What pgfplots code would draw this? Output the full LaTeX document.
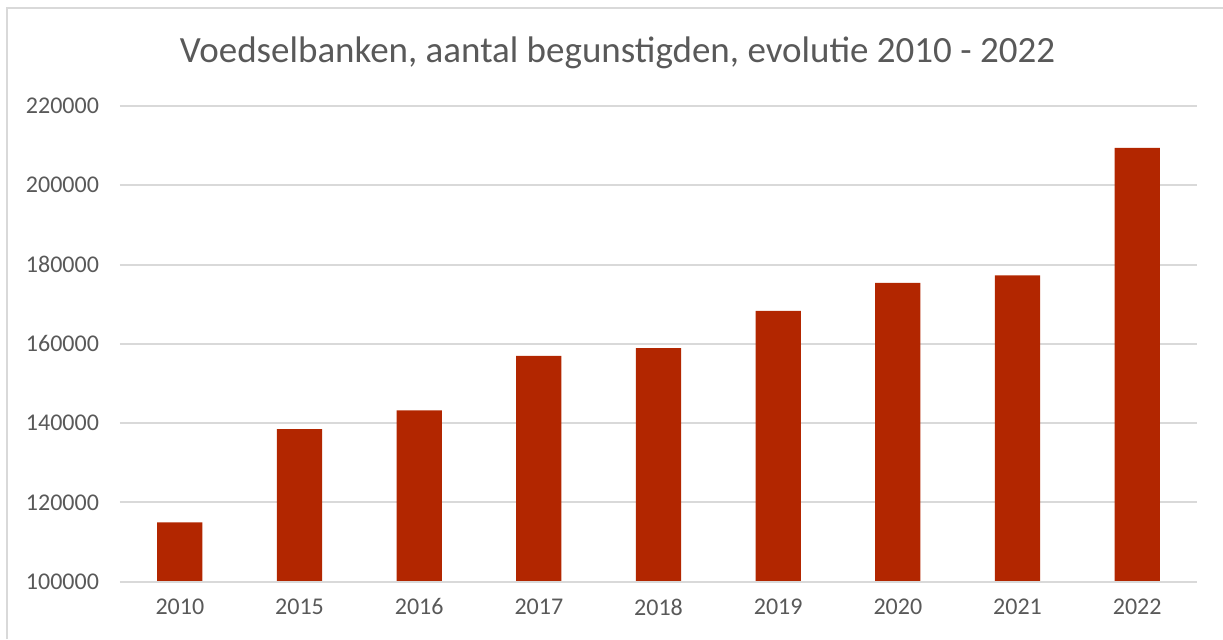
\documentclass[border=0pt]{standalone}
\usepackage{pgfplots}
\pgfplotsset{compat=1.18}
\usepackage{fontspec}
\setmainfont{Carlito}
\definecolor{barred}{RGB}{178,38,0}
\definecolor{txtgray}{RGB}{89,89,89}
\definecolor{gridgray}{RGB}{217,217,217}
\begin{document}
\begin{tikzpicture}
\path[use as bounding box] (0,0) rectangle (611.5pt,319.5pt);
\draw[gridgray, line width=1pt] (3.5pt,0) -- (3.5pt,315.5pt) -- (611.5pt,315.5pt);
\node[txtgray, font=\fontsize{18.5}{22}\selectfont] at (308.75pt,293pt) {Voedselbanken, aantal begunstigden, evolutie 2010 - 2022};
\begin{axis}[
  at={(60pt,28.65pt)}, anchor=south west,
  scale only axis,
  width=538.5pt, height=237.85pt,
  xmin=-0.5, xmax=8.5,
  ymin=100000, ymax=220000,
  ytick={100000,120000,140000,160000,180000,200000,220000},
  xtick={0,...,8},
  xticklabels={2010,2015,2016,2017,2018,2019,2020,2021,2022},
  axis line style={draw=none},
  axis x line*=bottom,
  tick style={draw=none},
  ymajorgrids,
  grid style={gridgray, line width=1pt},
  ticklabel style={txtgray, font=\fontsize{12}{14}\selectfont},
  /pgf/number format/assume math mode=true,
  scaled y ticks=false,
  yticklabel={\pgfmathprintnumber[fixed,1000 sep={}]{\tick}},
  yticklabel style={xshift=-7pt},
  xticklabel style={yshift=-5pt},
  axis on top=false,
]
\addplot[ybar, bar width=22.65pt, fill=barred, draw=none] coordinates {
(0,114950) (1,138500) (2,143200) (3,156950) (4,158900) (5,168350) (6,175400) (7,177250) (8,209450)
};
\draw[gridgray, line width=1pt] (axis cs:-0.5,100000) -- (axis cs:8.5,100000);
\end{axis}
\end{tikzpicture}
\end{document}
